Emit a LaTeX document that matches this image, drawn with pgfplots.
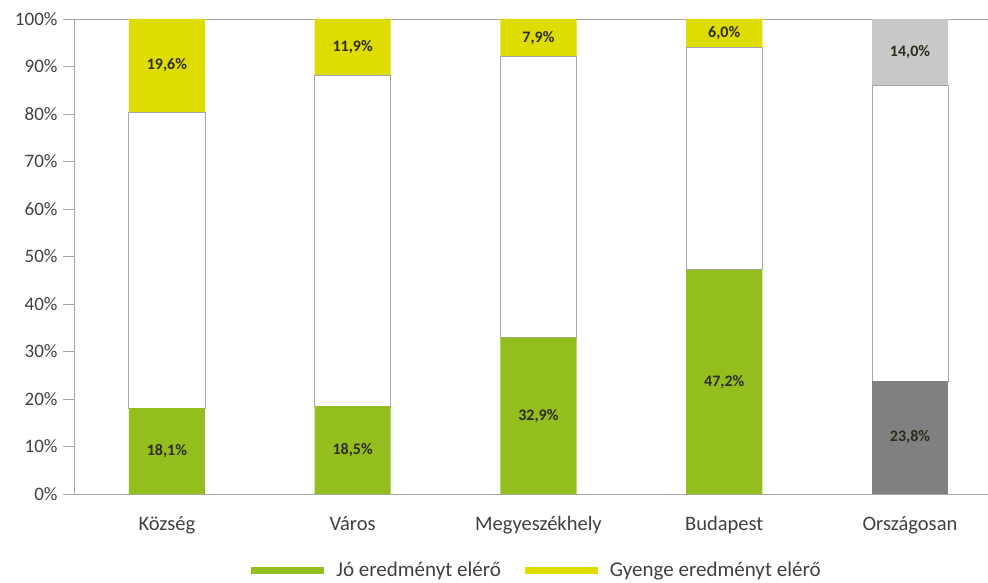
\documentclass[border=0pt]{standalone}
\usepackage{pgfplots}
\pgfplotsset{compat=1.18}
\usepackage{fontspec}
\setmainfont{Carlito}
\definecolor{cgreen}{RGB}{148,190,30}
\definecolor{cyellow}{RGB}{222,220,0}
\definecolor{cdgray}{RGB}{128,128,128}
\definecolor{clgray}{RGB}{200,200,200}
\definecolor{cline}{RGB}{166,166,166}
\definecolor{ctext}{RGB}{64,64,64}
\definecolor{clab}{RGB}{45,45,30}
\begin{document}
\begin{tikzpicture}
\begin{axis}[
  at={(74pt,88pt)}, anchor=south west,
  scale only axis, width=914pt, height=475pt,
  ybar stacked, bar width=0.41,
  xmin=-0.5, xmax=4.42, ymin=0, ymax=100,
  axis x line=bottom, axis y line=left,
  axis line style={-, draw=cline, line width=0.8pt},
  xtick={0,1,2,3,4},
  xticklabels={Község, Város, Megyeszékhely, Budapest, Országosan},
  xtick style={draw=none},
  ytick={0,10,...,100},
  yticklabel={\pgfmathprintnumber{\tick}\%},
  ytick style={draw=cline, line width=0.8pt},
  tick align=outside, major tick length=11pt,
  /pgf/number format/assume math mode=true,
  tick label style={font=\fontsize{19}{22}\selectfont, text=ctext},
  xticklabel style={yshift=-8pt, font=\fontsize{20.5}{23}\selectfont},
  yticklabel style={xshift=-2pt},
  point meta=explicit symbolic,
  every node near coord/.append style={anchor=center,
     font=\fontsize{16}{18}\selectfont\bfseries, text=clab},
  legend columns=2,
  legend style={draw=none, fill=none, at={(0.5,0)}, anchor=center, xshift=6pt, yshift=-76pt,
     font=\fontsize{21}{24}\selectfont, text=ctext,
     /tikz/every even column/.append style={column sep=22pt},
     /tikz/every odd column/.append style={column sep=10pt}},
  legend image code/.code={\fill[#1] (0pt,-3.5pt) rectangle (73pt,3.5pt);},
  clip=false,
]
\addplot[fill=cgreen, draw=none, nodes near coords] coordinates
  {(0,18.1)[18,1\%] (1,18.5)[18,5\%] (2,32.9)[32,9\%] (3,47.2)[47,2\%] (4,0)[{}]};
\addlegendentry{Jó eredményt elérő}
\addplot[fill=cdgray, draw=none, nodes near coords, forget plot] coordinates
  {(0,0)[{}] (1,0)[{}] (2,0)[{}] (3,0)[{}] (4,23.8)[23,8\%]};
\addplot[fill=white, draw=cline, line width=0.8pt, forget plot] coordinates
  {(0,62.3)[{}] (1,69.6)[{}] (2,59.2)[{}] (3,46.8)[{}] (4,62.2)[{}]};
\addplot[fill=cyellow, draw=none, nodes near coords] coordinates
  {(0,19.6)[19,6\%] (1,11.9)[11,9\%] (2,7.9)[7,9\%] (3,6.0)[6,0\%] (4,0)[{}]};
\addlegendentry{Gyenge eredményt elérő}
\addplot[fill=clgray, draw=none, nodes near coords, forget plot] coordinates
  {(0,0)[{}] (1,0)[{}] (2,0)[{}] (3,0)[{}] (4,14.0)[14,0\%]};
\draw[cline, line width=0.8pt] (rel axis cs:0,1) -- (rel axis cs:1,1);
\end{axis}
\pgfresetboundingbox
\useasboundingbox (0,0) rectangle (988pt,582pt);
\end{tikzpicture}
\end{document}
